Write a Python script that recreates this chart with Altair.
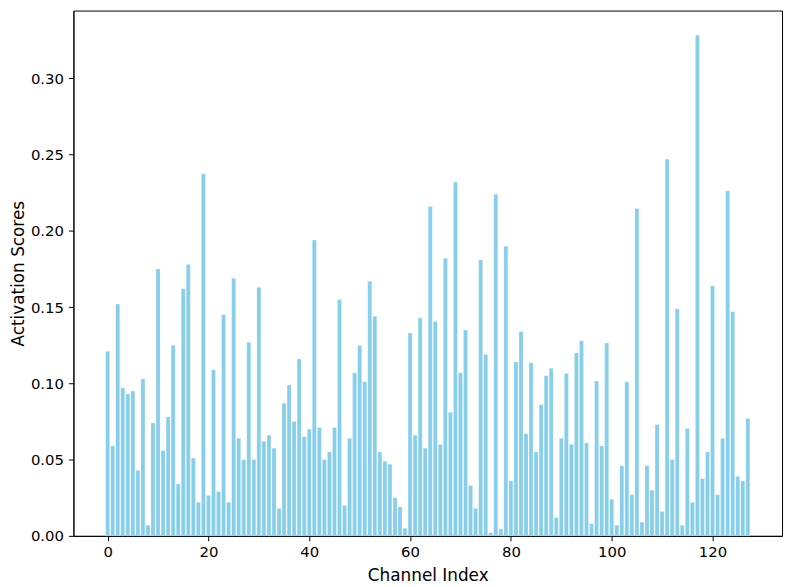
import altair as alt
import pandas as pd

channels = list(range(128))
scores = [
    0.121, 0.059, 0.152, 0.097, 0.093, 0.095, 0.043, 0.103, 0.007, 0.074,
    0.175, 0.056, 0.078, 0.125, 0.034, 0.162, 0.178, 0.051, 0.022, 0.2375,
    0.0265, 0.109, 0.029, 0.145, 0.022, 0.169, 0.064, 0.050, 0.127, 0.050,
    0.163, 0.062, 0.066, 0.0575, 0.018, 0.087, 0.099, 0.075, 0.116, 0.065,
    0.070, 0.194, 0.071, 0.050, 0.055, 0.071, 0.155, 0.020, 0.064, 0.107,
    0.125, 0.101, 0.167, 0.144, 0.055, 0.049, 0.047, 0.025, 0.019, 0.005,
    0.133, 0.066, 0.143, 0.0575, 0.216, 0.1405, 0.060, 0.182, 0.081, 0.232,
    0.107, 0.135, 0.033, 0.018, 0.181, 0.119, 0.002, 0.224, 0.0045, 0.190,
    0.036, 0.114, 0.134, 0.067, 0.1135, 0.055, 0.086, 0.105, 0.110, 0.012,
    0.064, 0.1065, 0.060, 0.120, 0.128, 0.061, 0.008, 0.1015, 0.059, 0.1265,
    0.024, 0.007, 0.046, 0.101, 0.027, 0.2147, 0.009, 0.046, 0.030, 0.073,
    0.016, 0.247, 0.050, 0.149, 0.007, 0.0705, 0.022, 0.3284, 0.0375, 0.055,
    0.164, 0.027, 0.064, 0.2263, 0.147, 0.039, 0.036, 0.077,
]

x_ticks = [0, 20, 40, 60, 80, 100, 120]
y_ticks = [0.0, 0.05, 0.10, 0.15, 0.20, 0.25, 0.30]

df = pd.DataFrame({"channel": channels, "score": scores})

font = "DejaVu Sans"

chart = (
    alt.Chart(df)
    .transform_calculate(left="datum.channel - 0.4", right="datum.channel + 0.4")
    .mark_bar(color="#87CEEB", stroke="white", strokeWidth=0.25)
    .encode(
        x=alt.X(
            "left:Q",
            title="Channel Index",
            scale=alt.Scale(domain=[-6.79, 133.79], nice=False, zero=False),
            axis=alt.Axis(values=x_ticks, format="d", grid=False, labelPadding=4,
                          titlePadding=8),
        ),
        x2="right:Q",
        y=alt.Y(
            "score:Q",
            title="Activation Scores",
            scale=alt.Scale(domain=[0, 0.3445], nice=False),
            axis=alt.Axis(values=y_ticks, format=".2f", grid=False, labelPadding=5,
                          titlePadding=3),
        ),
        y2=alt.datum(0),
    )
    .properties(
        width=715,
        height=530,
        autosize=alt.AutoSizeParams(type="none"),
        padding={"left": 66, "top": 0, "right": 4, "bottom": 48},
    )
    .configure_axis(
        labelFont=font,
        titleFont=font,
        labelFontSize=15,
        titleFontSize=17,
        titleFontWeight="normal",
        labelColor="black",
        titleColor="black",
        domainColor="black",
        tickColor="black",
        tickSize=5,
        domainWidth=1,
        tickWidth=1,
    )
    .configure_view(stroke="black", strokeWidth=1)
)

chart.save("out.html", embed_options={"renderer": "svg", "actions": False})
